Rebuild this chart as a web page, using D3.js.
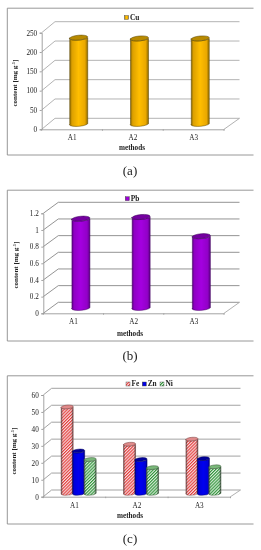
<!DOCTYPE html>
<html><head><meta charset="utf-8">
<script src="https://cdn.jsdelivr.net/npm/d3@7"></script>
<style>html,body{margin:0;padding:0;background:#fff}svg{display:block}text{font-family:"Liberation Serif",serif;fill:#222}</style>
</head><body><svg id="c" width="261" height="550"></svg>
<script>
const methods = ["A1","A2","A3"];
const cuValues = [223, 221, 221];
const pbValues = [1.07, 1.09, 0.86];
const feValues = [51, 29, 32];
const znValues = [25, 20, 20.5];
const niValues = [20, 15.2, 15.7];
const cuTicks = [0,50,100,150,200,250];
const pbTicks = [0,0.2,0.4,0.6,0.8,1,1.2];
const feTicks = [0,10,20,30,40,50,60];

const svg = d3.select("#c");
const defs = svg.append("defs");
defs.append("filter").attr("id","soft").attr("x","-5%").attr("y","-5%").attr("width","110%").attr("height","110%")
  .append("feGaussianBlur").attr("stdDeviation",0.3);
const root = svg.append("g").attr("filter","url(#soft)");

function shade(id, stops){
  const g = defs.append("linearGradient").attr("id",id);
  stops.forEach(s=>g.append("stop").attr("offset",s[0]).attr("stop-color",s[1]).attr("stop-opacity",s[2]===undefined?1:s[2]));
}
shade("gCu",[[0,"#7a5c00"],[.14,"#dca000"],[.5,"#ffbe00"],[.85,"#eaa800"],[1,"#8a6800"]]);
shade("gPb",[[0,"#55007a"],[.14,"#8f00c4"],[.5,"#a400e0"],[.85,"#9200c8"],[1,"#5c0084"]]);
shade("gZn",[[0,"#000080"],[.14,"#0000d8"],[.5,"#0000f0"],[.85,"#0000d8"],[1,"#000088"]]);
shade("gEdge",[[0,"#333",.75],[.16,"#333",.05],[.84,"#333",.05],[1,"#333",.75]]);
function hatch(id, fg, bg){
  const p = defs.append("pattern").attr("id",id).attr("patternUnits","userSpaceOnUse")
    .attr("width",2.2).attr("height",2.2).attr("patternTransform","rotate(45)");
  p.append("rect").attr("width",2.2).attr("height",2.2).attr("fill",bg);
  p.append("rect").attr("width",1.1).attr("height",2.2).attr("fill",fg);
}
hatch("hFe","#f03a3a","#ffeaea");
hatch("hNi","#2f9a3a","#e6f7e6");

function panel(o){
  const g = root.append("g");
  g.append("path").attr("fill","none").attr("stroke","#8c8c8c").attr("stroke-width",.9)
    .attr("d",`M${o.fr[2]},${o.fr[1]}H${o.fr[0]}V${o.fr[3]}H${o.fr[2]}`);
  const y = d3.scaleLinear().domain(o.domain).range([o.y0,o.y1]);
  const x = d3.scaleBand().domain(methods).range([o.x0,o.x1]);
  const dx=o.dx, dy=o.dy;
  g.append("g").selectAll("path").data(o.ticks).join("path").attr("fill","none")
    .attr("stroke",o.grid).attr("stroke-width",.9)
    .attr("d",d=>`M${o.x0},${y(d)}L${o.x0+dx},${y(d)-dy}H${o.xb}`);
  g.append("path").attr("fill","none").attr("stroke","#a8a8a8").attr("stroke-width",.9)
    .attr("d",`M${o.x1},${o.y0}L${o.xb},${o.y0-dy}`);
  const ay = g.append("g").attr("transform",`translate(${o.x0},0)`)
    .call(d3.axisLeft(y).tickValues(o.ticks).tickFormat(d3.format("~g")).tickSize(2).tickPadding(o.tp));
  const ax = g.append("g").attr("transform",`translate(0,${o.y0})`)
    .call(d3.axisBottom(x).tickSize(0).tickPadding(o.xp));
  [ay,ax].forEach(a=>{a.selectAll("path,line").attr("stroke","#999").attr("stroke-width",.9);
    a.selectAll("text").attr("font-size",7.2).attr("fill","#222").attr("font-family","Liberation Serif");});
  g.append("g").selectAll("line").data(d3.range(4)).join("line")
    .attr("x1",i=>o.x0+i*x.bandwidth()).attr("x2",i=>o.x0+i*x.bandwidth())
    .attr("y1",o.y0).attr("y2",o.y0+1.5).attr("stroke","#999").attr("stroke-width",.8);
  o.series.forEach((s,si)=>{
    const off = (si-(o.series.length-1)/2)*o.step;
    methods.forEach((m,i)=>{
      const cx = x(m)+x.bandwidth()/2+dx/2+off;
      const top = y(s.v[i])-dy/2, base = o.y0-dy/2;
      const rx=o.rx, ry=o.ry, ang=-5;
      const gb = g.append("g");
      const body = `M${cx-rx},${top}V${base}A${rx},${ry} ${ang} 0 0 ${cx+rx},${base}V${top}A${rx},${ry} ${ang} 0 1 ${cx-rx},${top}Z`;
      gb.append("path").attr("d",body).attr("fill",s.fill).attr("stroke",s.line).attr("stroke-width",.5);
      if(s.edge) gb.append("path").attr("d",body).attr("fill","url(#gEdge)");
      gb.append("ellipse").attr("cx",cx).attr("cy",top).attr("rx",rx).attr("ry",ry)
        .attr("transform",`rotate(${ang} ${cx} ${top})`)
        .attr("fill",s.cap).attr("stroke",s.line).attr("stroke-width",.5);
    });
    const lx=o.lg[si];
    g.append("rect").attr("x",lx).attr("y",o.ly-2).attr("width",4).attr("height",4)
      .attr("fill",s.fill).attr("stroke","#444").attr("stroke-width",.4);
    g.append("text").attr("x",lx+5.4).attr("y",o.ly+2.4).attr("font-size",7.4).attr("font-weight","bold").text(s.name);
  });
  const lab = g.append("text").attr("transform",`translate(${o.ytx},${o.yty}) rotate(-90)`)
    .attr("text-anchor","middle").attr("font-size",7).attr("font-weight","bold");
  lab.append("tspan").text("content [mg g");
  lab.append("tspan").attr("dy",-2).attr("font-size",4.6).text("-1");
  lab.append("tspan").attr("dy",2).text("]");
  g.append("text").attr("x",o.mx).attr("y",o.my).attr("text-anchor","middle")
    .attr("font-size",7.2).attr("font-weight","bold").text("methods");
  g.append("text").attr("x",130).attr("y",o.capY).attr("text-anchor","middle")
    .attr("font-size",13).attr("fill","#000").text(o.caption);
}

panel({fr:[7.3,8.2,253.5,155],domain:[0,250],ticks:cuTicks,y0:129.3,y1:32.7,x0:41.7,x1:224,xb:239.5,dx:13.3,dy:11,grid:"#aaa",
  tp:2.5,xp:5.5,rx:9,ry:2.4,step:0,lg:[124.5],ly:17.5,ytx:17,yty:83,mx:132,my:149.5,capY:175,caption:"(a)",
  series:[{name:"Cu",v:cuValues,fill:"url(#gCu)",cap:"#b88a00",line:"#5a4500"}]});
panel({fr:[7.3,190.2,253.5,341],domain:[0,1.2],ticks:pbTicks,y0:313.3,y1:213.3,x0:43.3,x1:224,xb:239.5,dx:15,dy:11,grid:"#888",
  tp:2.5,xp:6,rx:9,ry:2.4,step:0,lg:[125.3],ly:198.7,ytx:18,yty:265,mx:130,my:335.5,capY:360,caption:"(b)",
  series:[{name:"Pb",v:pbValues,fill:"url(#gPb)",cap:"#7400a0",line:"#3c0058"}]});
panel({fr:[7.3,375.8,253.5,524],domain:[0,60],ticks:feTicks,y0:496.7,y1:395,x0:43.3,x1:230.5,xb:240.5,dx:8.3,dy:6.7,grid:"#999",
  tp:2.5,xp:6,rx:6,ry:1.8,step:11.5,lg:[126,142.3,160],ly:384,ytx:16,yty:451,mx:130,my:518,capY:543,caption:"(c)",
  series:[
    {name:"Fe",v:feValues,fill:"url(#hFe)",cap:"#e08a8a",line:"#7a4040",edge:true},
    {name:"Zn",v:znValues,fill:"url(#gZn)",cap:"#00009a",line:"#000060"},
    {name:"Ni",v:niValues,fill:"url(#hNi)",cap:"#7ab87a",line:"#3a5a3a",edge:true}]});
</script></body></html>
